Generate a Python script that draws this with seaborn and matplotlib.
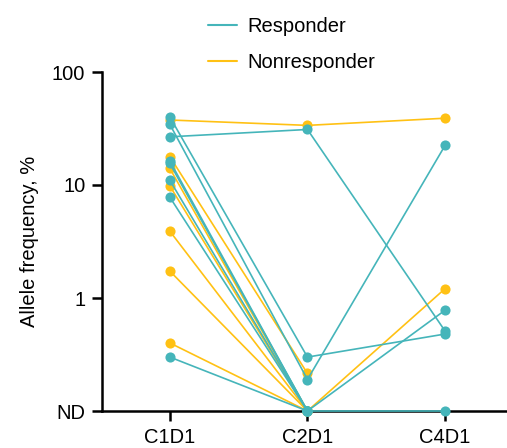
import numpy as np
import pandas as pd
import matplotlib
matplotlib.use("Agg")
import matplotlib.pyplot as plt
from matplotlib.lines import Line2D
import seaborn as sns

# visits and the value used to plot "not detected"
visits = ["C1D1", "C2D1", "C4D1"]
ND = 0.1

# allele frequency (%) per patient, None = not sampled at that visit
responder_c1d1 = [40, 34.4, 26.7, 16.3, 15.5, 11.0, 7.8, 0.30]
responder_c2d1 = [0.30, 0.19, 31, ND, ND, ND, ND, ND]
responder_c4d1 = [0.48, 22.4, 0.51, 0.78, ND, None, None, None]

nonresponder_c1d1 = [37.6, 17.8, 14.0, 9.8, 3.9, 1.73, 0.40]
nonresponder_c2d1 = [33.7, 0.215, ND, ND, ND, ND, ND]
nonresponder_c4d1 = [39, None, 1.21, None, None, None, None]

TEAL = "#45B5BA"
YELLOW = "#FFC114"


def to_long(group, c1, c2, c4):
    rows = []
    for i, vals in enumerate(zip(c1, c2, c4)):
        for visit, v in zip(visits, vals):
            if v is not None:
                rows.append({"patient": f"{group}_{i}", "group": group,
                             "visit": visit, "af": v})
    return rows


df = pd.DataFrame(
    to_long("Responder", responder_c1d1, responder_c2d1, responder_c4d1)
    + to_long("Nonresponder", nonresponder_c1d1, nonresponder_c2d1, nonresponder_c4d1)
)
df["x"] = df["visit"].map({v: i for i, v in enumerate(visits)})

sns.set_style("ticks", {"axes.edgecolor": "black", "xtick.color": "black",
                        "ytick.color": "black", "text.color": "black",
                        "axes.labelcolor": "black"})
plt.rcParams["font.family"] = ["Liberation Sans", "DejaVu Sans"]
FS = 14.5

fig = plt.figure(figsize=(5.07, 4.48), dpi=100)
ax = fig.add_axes([102 / 507, 37 / 448, 1 - 102 / 507, (411 - 72) / 448])

sns.lineplot(data=df, x="x", y="af", hue="group", units="patient", estimator=None,
             palette={"Responder": TEAL, "Nonresponder": YELLOW},
             hue_order=["Nonresponder", "Responder"],
             marker="o", markersize=7.3, markeredgewidth=0, linewidth=1.2,
             clip_on=False, legend=False, zorder=3, ax=ax)

ax.set_yscale("log")
ax.set_ylim(ND, 100)
ax.set_xlim(-0.493, 2.45)
ax.set_yticks([ND, 1, 10, 100])
ax.set_yticklabels(["ND", "1", "10", "100"])
ax.minorticks_off()
ax.set_xticks(range(len(visits)))
ax.set_xticklabels(visits)
ax.set_xlabel("")
ax.set_ylabel("Allele frequency, %", fontsize=FS)
ax.yaxis.set_label_coords(-0.155, 0.5)

ax.tick_params(axis="both", labelsize=FS, length=7, width=1.8, direction="out",
               pad=5, colors="black")
for side in ["left", "bottom"]:
    ax.spines[side].set_linewidth(1.8)
sns.despine(ax=ax)

handles = [Line2D([], [], color=TEAL, lw=1.5), Line2D([], [], color=YELLOW, lw=1.5)]
fig.legend(handles, ["Responder", "Nonresponder"], loc="upper left",
           bbox_to_anchor=(208 / 507, 1 - 17 / 448), frameon=False, fontsize=FS,
           handlelength=1.45, handletextpad=0.5, labelspacing=0.85,
           borderpad=0, borderaxespad=0)

fig.savefig("out.png", dpi=100)
